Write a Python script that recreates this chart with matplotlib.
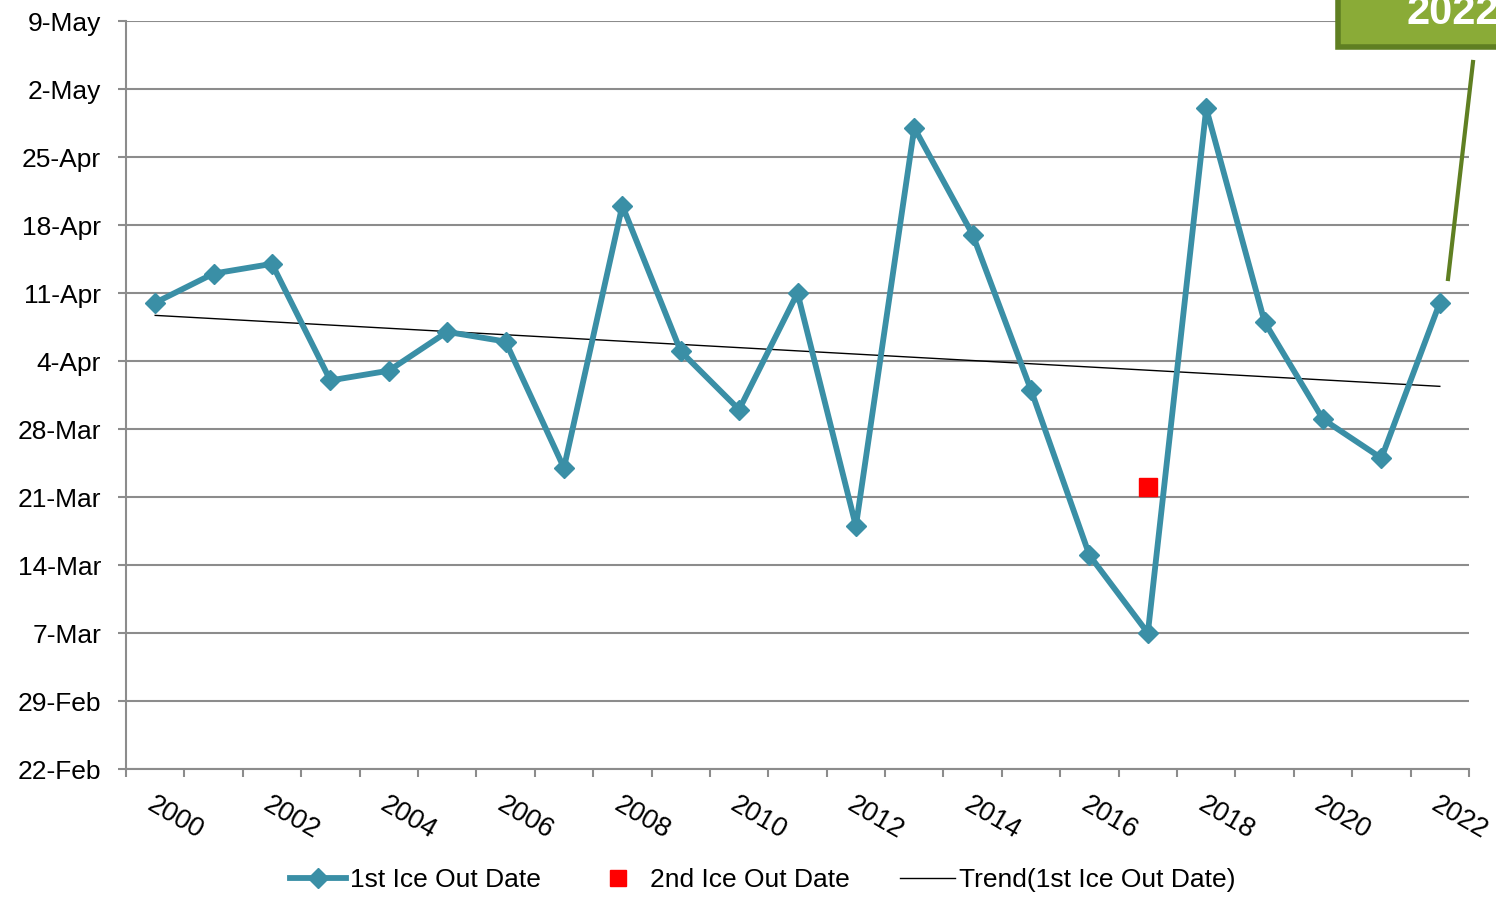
import matplotlib
matplotlib.use("Agg")
import matplotlib.pyplot as plt
import matplotlib.dates as mdates
from matplotlib.lines import Line2D
from matplotlib.patches import Rectangle
from matplotlib.ticker import FuncFormatter, FixedLocator
from datetime import datetime
import numpy as np

plt.rcParams['font.family'] = ['Liberation Sans', 'DejaVu Sans']

# Ice out dates per year (plotted on a common leap-year calendar)
years = list(range(2000, 2023))
first_ice_out = ["10-Apr", "13-Apr", "14-Apr", "2-Apr", "3-Apr", "7-Apr", "6-Apr",
                 "24-Mar", "20-Apr", "5-Apr", "30-Mar", "11-Apr", "18-Mar", "28-Apr",
                 "17-Apr", "1-Apr", "15-Mar", "7-Mar", "30-Apr", "8-Apr", "29-Mar",
                 "25-Mar", "10-Apr"]
second_years = [2017]
second_ice_out = ["22-Mar"]
highlight_label = "2022"

y_start, y_end = "22-Feb", "9-May"


def to_num(s):
    return mdates.date2num(datetime.strptime(s + "-2000", "%d-%b-%Y"))


x = np.arange(len(years))
y1 = np.array([to_num(s) for s in first_ice_out])
x2 = [years.index(yr) for yr in second_years]
y2 = [to_num(s) for s in second_ice_out]

line_color = "#3A8FA6"
grid_color = "#8C8C8C"

fig = plt.figure(figsize=(14.96, 8.97), dpi=100)
ax = fig.add_axes([126 / 1496, 1 - 769 / 897, (1469 - 126) / 1496, (769 - 21) / 897])

ax.plot(x, y1, color=line_color, lw=4.2, marker='D', ms=10, zorder=3)
ax.plot(x2, y2, ls='none', marker='s', ms=13, color='#FF0000', zorder=4)

# linear trend of first ice out
coef = np.polyfit(x, y1, 1)
ax.plot(x, np.polyval(coef, x), color='black', lw=1.0, zorder=2)

# y axis: weekly date ticks
lo, hi = to_num(y_start), to_num(y_end)
ax.set_ylim(lo, hi)
ax.yaxis.set_major_locator(FixedLocator(np.arange(lo, hi + 0.5, 7)))


def fmt_date(v, pos):
    d = mdates.num2date(v)
    return f"{d.day}-{d.strftime('%b')}"


ax.yaxis.set_major_formatter(FuncFormatter(fmt_date))
ax.grid(axis='y', color=grid_color, lw=1.5, zorder=0)

# x axis: tick marks at category edges, labels every other year
ax.set_xlim(-0.5, len(years) - 0.5)
ax.set_xticks(np.arange(-0.5, len(years), 1.0))
ax.set_xticklabels([])
ax.set_xticks(x[::2], minor=True)
ax.set_xticklabels([str(y) for y in years[::2]], minor=True, rotation=-30,
                   ha='left', va='top', rotation_mode='anchor')
ax.tick_params(axis='x', which='minor', length=0, pad=16, labelsize=19.5)
ax.tick_params(axis='x', which='major', length=6, width=1.5, color=grid_color)
ax.tick_params(axis='y', length=6, width=1.5, color=grid_color, pad=12, labelsize=19)

for side in ('top', 'right'):
    ax.spines[side].set_visible(False)
for side in ('left', 'bottom'):
    ax.spines[side].set_color(grid_color)
    ax.spines[side].set_linewidth(1.5)

# highlight callout for the latest year
W, H = 1496, 897
fig.patches.append(Rectangle((1338 / W, 1 - 47 / H), 200 / W, 60 / H,
                             transform=fig.transFigure, facecolor='#8AAB37',
                             edgecolor='#5F7F22', lw=4, zorder=5))
fig.text(1406 / W, 1 - 24 / H, highlight_label, color='white', fontsize=30,
         fontweight='bold', ha='left', va='baseline', zorder=6)
fig.add_artist(Line2D([1473 / W, 1448 / W], [1 - 62 / H, 1 - 279 / H],
                      transform=fig.transFigure, color='#5F7F22', lw=3))

handles = [
    Line2D([], [], color=line_color, lw=4.2, marker='D', ms=10),
    Line2D([], [], ls='none', marker='s', ms=11, color='#FF0000'),
    Line2D([], [], color='black', lw=1.0),
]
labels = ["1st Ice Out Date", "2nd Ice Out Date", "Trend(1st Ice Out Date)"]
fig.legend(handles, labels, loc='center', bbox_to_anchor=(763 / W, 1 - 880 / H),
           ncol=3, frameon=False, fontsize=19, handlelength=2.1,
           handletextpad=0.15, columnspacing=1.9)

fig.savefig("out.png", dpi=100)
